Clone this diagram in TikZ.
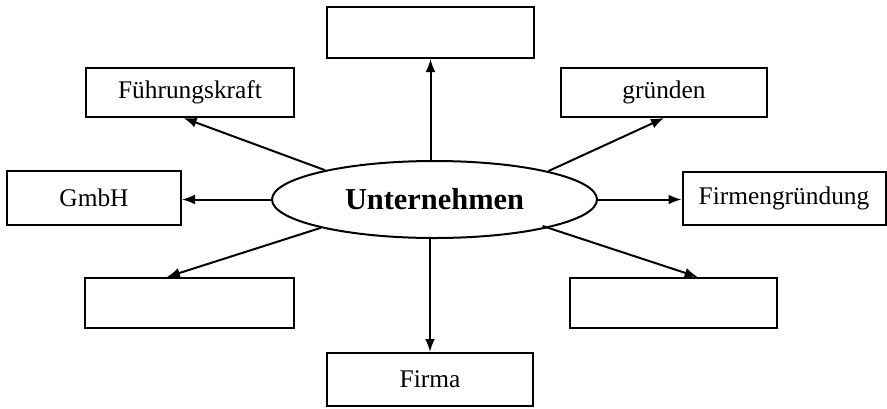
\documentclass[tikz,border=0pt]{standalone}
\usepackage{fontspec}
\setmainfont{Liberation Serif}
\usepackage{tikz}
\usetikzlibrary{shapes.geometric, arrows.meta, positioning}

\begin{document}
\begin{tikzpicture}[x=0.5pt, y=-0.5pt, >={Latex[length=6.5pt,width=5pt]}]
    % Stile
    \tikzstyle{box} = [draw, rectangle, line width=1pt, inner sep=0pt, font=\fontsize{12.7}{15}\selectfont]
    \tikzstyle{core} = [draw, ellipse, line width=1pt, inner sep=0pt, minimum width=162.5pt, minimum height=38.5pt, font=\fontsize{15.2}{18}\selectfont\bfseries]
    \tikzstyle{link} = [->, line width=1pt]

    \useasboundingbox (0,0) rectangle (887,408);

    % Knoten
    \node [core] (un) at (434.5,199.5) {Unternehmen};
    \node [box, minimum width=103.5pt, minimum height=25.5pt] (top) at (430.5,32.5) {};
    \node [box, minimum width=104pt, minimum height=24.5pt] (fk) at (190,92.5) {Führungskraft};
    \node [box, minimum width=103pt, minimum height=24.5pt] (gr) at (664,92.5) {gründen};
    \node [box, minimum width=87pt, minimum height=27pt] (gmbh) at (94,198) {GmbH};
    \node [box, minimum width=101.5pt, minimum height=26.5pt] (fg) at (784,198.5) {Firmengründung};
    \node [box, minimum width=104.5pt, minimum height=25pt] (bl) at (189.5,303) {};
    \node [box, minimum width=103.5pt, minimum height=25pt] (br) at (673.5,303) {};
    \node [box, minimum width=103pt, minimum height=26.5pt] (firma) at (430,379.5) {Firma};

    % Pfeile
    \draw [link] (un.north -| top.south) -- (top.south);
    \draw [link] (un.south -| firma.north) -- (firma.north);
    \draw [link] (un.west) -- (un.west -| gmbh.east);
    \draw [link] (un.east) -- (un.east -| fg.west);
    \draw [link] (un.165) -- (fk.256);
    \draw [link] (un.14) -- (gr.south);
    \draw [link] (un.194) -- (bl.131);
    \draw [link, shorten <=-3pt] (un.-14) -- (br.47);
\end{tikzpicture}
\end{document}
